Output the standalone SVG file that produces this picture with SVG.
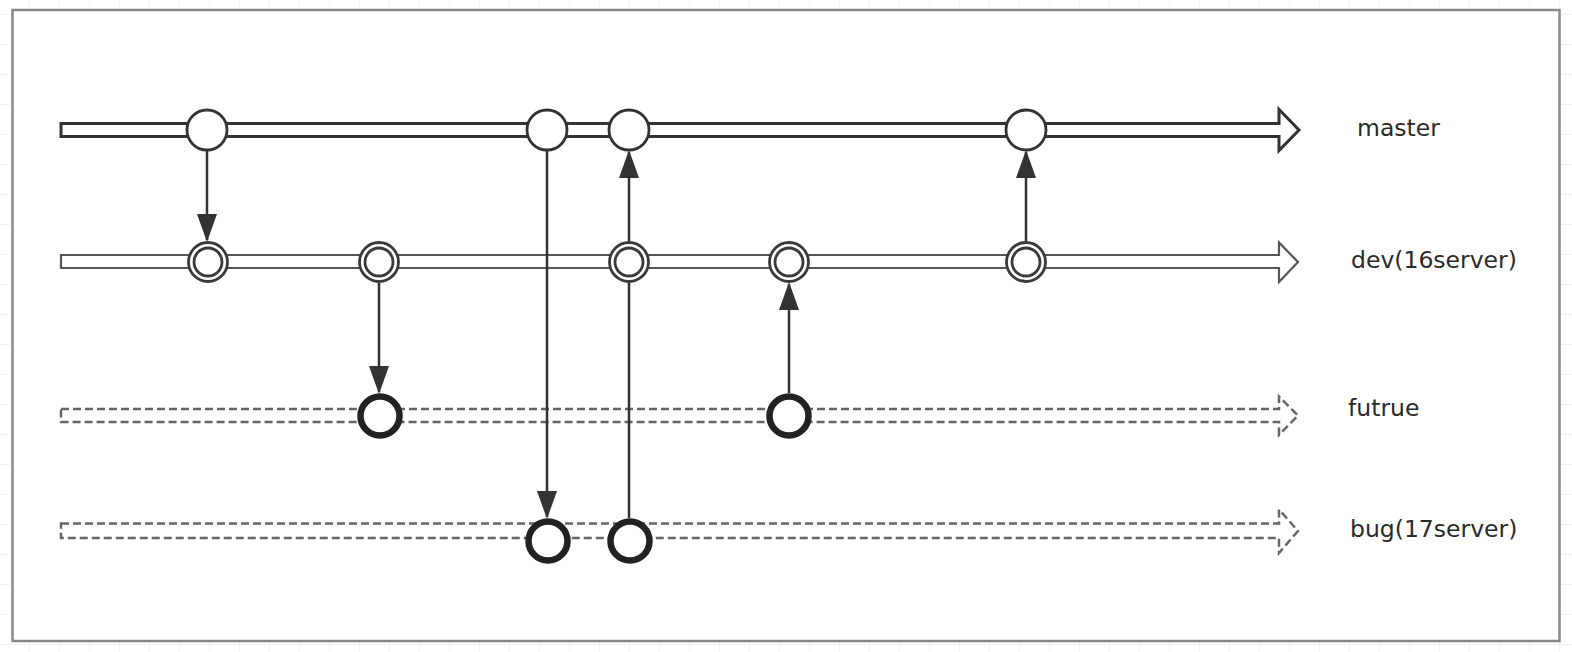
<svg xmlns="http://www.w3.org/2000/svg" width="1572" height="652" viewBox="0 0 1572 652">
<defs>
<pattern id="grid" x="29" y="14" width="30" height="30" patternUnits="userSpaceOnUse">
<path d="M0,0 H30 M0,0 V30" fill="none" stroke="#e6e6e6" stroke-width="1"/>
</pattern>
<marker id="arr" markerWidth="28" markerHeight="20" refX="26" refY="10" viewBox="0 0 28 20" orient="auto" markerUnits="userSpaceOnUse">
<path d="M0,0 L28,10 L0,20 Z" fill="#333"/>
</marker>
</defs>
<style>
.lane{fill:#fff;stroke-linejoin:miter}
.master{stroke:#333;stroke-width:3}
.dev{stroke:#555;stroke-width:2.2}
.dash{stroke:#666;stroke-width:2.5;stroke-dasharray:8 4}
.c1{fill:#fff;stroke:#333;stroke-width:2.8}
.c2{fill:#fff;stroke:#3a3a3a;stroke-width:2.8}
.c3{fill:#fff;stroke:#222;stroke-width:6.5}
.conn{fill:none;stroke:#333;stroke-width:2.5}
.lbl{font-family:"DejaVu Sans",sans-serif;font-size:23.5px;fill:#2a2a2a}
</style>
<rect width="1572" height="652" fill="#fff"/>
<rect width="1572" height="652" fill="url(#grid)"/>
<rect x="12.5" y="10" width="1547" height="631" fill="#fff" stroke="#888" stroke-width="2.5"/>

<g id="lanes">
<path id="lane-master" class="lane master" d="M61,123.5 H1279 V109.5 L1299,130 L1279,150.5 V136.5 H61 Z"/>
<path id="lane-dev" class="lane dev" d="M61,255 H1279 V242.5 L1298,262 L1279,282 V268 H61 Z"/>
<path id="lane-futrue" class="lane dash" d="M61,409 H1279 V396.5 L1298,415.5 L1279,435 V422 H61 Z"/>
<path id="lane-bug" class="lane dash" d="M61,523.5 H1279 V509.5 L1298,531 L1279,553 V538 H61 Z"/>
</g>

<g id="connectors">
<line class="conn" x1="207" y1="151" x2="207" y2="240" marker-end="url(#arr)"/>
<line class="conn" x1="379" y1="283" x2="379" y2="392" marker-end="url(#arr)"/>
<line class="conn" x1="547" y1="151" x2="547" y2="517" marker-end="url(#arr)"/>
<line class="conn" x1="629" y1="518" x2="629" y2="152" marker-end="url(#arr)"/>
<line class="conn" x1="789" y1="393" x2="789" y2="284" marker-end="url(#arr)"/>
<line class="conn" x1="1026" y1="241" x2="1026" y2="152" marker-end="url(#arr)"/>
</g>

<g id="master-commits">
<circle id="m1" class="c1" cx="207" cy="130" r="20"/>
<circle id="m2" class="c1" cx="547" cy="130" r="20"/>
<circle id="m3" class="c1" cx="629" cy="130" r="20"/>
<circle id="m4" class="c1" cx="1026" cy="130" r="20"/>
</g>

<g id="dev-commits">
<g id="d1"><circle class="c2" cx="208" cy="262" r="19.5"/><circle class="c2" cx="208" cy="262" r="14"/></g>
<g id="d2"><circle class="c2" cx="379" cy="262" r="19.5"/><circle class="c2" cx="379" cy="262" r="14"/></g>
<g id="d3"><circle class="c2" cx="629" cy="262" r="19.5"/><circle class="c2" cx="629" cy="262" r="14"/></g>
<g id="d4"><circle class="c2" cx="789" cy="262" r="19.5"/><circle class="c2" cx="789" cy="262" r="14"/></g>
<g id="d5"><circle class="c2" cx="1026" cy="262" r="19.5"/><circle class="c2" cx="1026" cy="262" r="14"/></g>
</g>

<g id="futrue-commits">
<circle id="f1" class="c3" cx="380" cy="416" r="19.5"/>
<circle id="f2" class="c3" cx="789" cy="416" r="19.5"/>
</g>

<g id="bug-commits">
<circle id="b1" class="c3" cx="548" cy="541" r="19.5"/>
<circle id="b2" class="c3" cx="630" cy="541" r="19.5"/>
</g>

<g id="labels">
<text class="lbl" x="1357" y="136">master</text>
<text class="lbl" x="1351" y="268">dev(16server)</text>
<text class="lbl" x="1348" y="416">futrue</text>
<text class="lbl" x="1350" y="537">bug(17server)</text>
</g>
</svg>
